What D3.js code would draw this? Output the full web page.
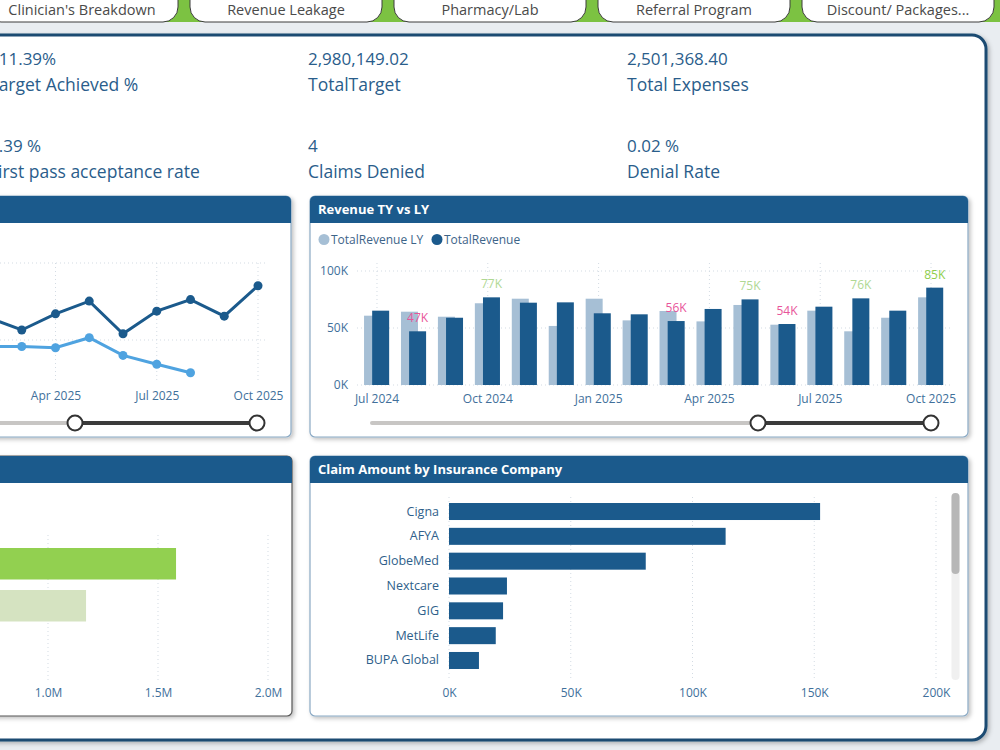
<!DOCTYPE html>
<html>
<head>
<meta charset="utf-8">
<script src="https://cdn.jsdelivr.net/npm/d3@7"></script>
<style>
  body { margin: 0; background: #e9edf1; }
  svg { display: block; font-family: "Segoe UI", "Open Sans", sans-serif; }
</style>
</head>
<body>
<svg id="dash" width="1000" height="750"></svg>
<script>
// Page tabs
const tabNames = ["Clinician's Breakdown", "Revenue Leakage", "Pharmacy/Lab", "Referral Program", "Discount/ Packages..."];

// KPI cards
const kpiValues = ["111.39%", "2,980,149.02", "2,501,368.40", "9.39 %", "4", "0.02 %"];
const kpiLabels = ["Target Achieved %", "TotalTarget", "Total Expenses", "First pass acceptance rate", "Claims Denied", "Denial Rate"];

// Revenue TY vs LY
const revMonths = ["Jul 2024", "Aug 2024", "Sep 2024", "Oct 2024", "Nov 2024", "Dec 2024", "Jan 2025", "Feb 2025",
                   "Mar 2025", "Apr 2025", "May 2025", "Jun 2025", "Jul 2025", "Aug 2025", "Sep 2025", "Oct 2025"];
const revenueLY = [60800, 64300, 59900, 71700, 75700, 51800, 75700, 56700, 64900, 55800, 70200, 52900, 65200, 47100, 59000, 76900];
const revenueTY = [65200, 47100, 59000, 76900, 72200, 72500, 62900, 62000, 56100, 66700, 75100, 53500, 68700, 76000, 65200, 85400];
const revLabelMonths = ["Aug 2024", "Oct 2024", "Mar 2025", "May 2025", "Jun 2025", "Aug 2025", "Oct 2025"];
const revTicks = ["Jul 2024", "Oct 2024", "Jan 2025", "Apr 2025", "Jul 2025", "Oct 2025"];

// Left trend chart (partly cut off)
const lineMonths = ["Feb 2025", "Mar 2025", "Apr 2025", "May 2025", "Jun 2025", "Jul 2025", "Aug 2025", "Sep 2025", "Oct 2025"];
const lineTY = [45900, 42600, 46800, 50100, 41600, 47500, 50500, 46200, 54100];
const lineLY = [38300, 38300, 38000, 40600, 36000, 33700, 31500];
const lineTicks = ["Apr 2025", "Jul 2025", "Oct 2025"];

// Left bar chart (labels cut off)
const leftCats = ["TotalRevenue", "TotalRevenue LY"];
const leftValues = [1582000, 1173000];

// Claim Amount by Insurance Company
const insurers = ["Cigna", "AFYA", "GlobeMed", "Nextcare", "GIG", "MetLife", "BUPA Global"];
const claimAmounts = [152400, 113600, 80800, 23800, 22200, 19200, 12300];

const navy = "#1b5a8c";
const lightNavy = "#a6bfd5";
const axisColor = "#41709b";
const gridColor = "#d3dbe3";

const svg = d3.select("#dash");

// Shadows
const defs = svg.append("defs");
defs.append("filter").attr("id", "shadow").attr("x", "-5%").attr("y", "-5%").attr("width", "115%").attr("height", "115%")
    .append("feDropShadow").attr("dx", 2).attr("dy", 2).attr("stdDeviation", 2)
    .attr("flood-color", "#000").attr("flood-opacity", 0.25);

// Background
svg.append("rect").attr("width", 1000).attr("height", 750).attr("fill", "#e9edf1");

// Tabs strip
svg.append("rect").attr("x", 0).attr("y", 0).attr("width", 1000).attr("height", 22).attr("fill", "#7cc242");
const tabs = svg.append("g").selectAll("g").data(tabNames).join("g")
    .attr("transform", (d, i) => `translate(${-14 + i * 204},0)`);
tabs.append("rect")
    .attr("x", 0).attr("y", -20).attr("width", 192).attr("height", 42).attr("rx", 15)
    .attr("fill", "#fff").attr("stroke", "#3c3c3c").attr("stroke-width", 1);
tabs.append("text")
    .attr("x", 96).attr("y", 15).attr("text-anchor", "middle")
    .attr("font-size", 14.5).attr("fill", "#4a4a4a")
    .text(d => d);

// Main panel
svg.append("rect")
    .attr("x", -20).attr("y", 35).attr("width", 1006).attr("height", 705).attr("rx", 14)
    .attr("fill", "#fff").attr("stroke", "#1d4b72").attr("stroke-width", 3)
    .attr("filter", "url(#shadow)");

// KPIs
const kpiCols = [-11, 308, 627];
const kpi = svg.append("g").attr("fill", "#2a5d8b");
kpiValues.forEach((v, i) => {
    const col = i % 3, row = Math.floor(i / 3);
    kpi.append("text").attr("x", kpiCols[col]).attr("y", 65 + row * 87)
        .attr("font-size", 17).text(v);
    kpi.append("text").attr("x", kpiCols[col]).attr("y", 91 + row * 87)
        .attr("font-size", 17.5).text(kpiLabels[i]);
});

// Card helper
function card(x, y, w, h, title, border) {
    const g = svg.append("g");
    g.append("rect").attr("x", x).attr("y", y).attr("width", w).attr("height", h).attr("rx", 5)
        .attr("fill", "#fff").attr("stroke", border).attr("stroke-width", 1.2)
        .attr("filter", "url(#shadow)");
    g.append("rect").attr("x", x).attr("y", y).attr("width", w).attr("height", 27).attr("rx", 5).attr("fill", navy);
    g.append("rect").attr("x", x).attr("y", y + 20).attr("width", w).attr("height", 7).attr("fill", navy);
    if (title) {
        g.append("text").attr("x", x + 8).attr("y", y + 18)
            .attr("font-size", 13).attr("font-weight", "bold").attr("fill", "#fff").text(title);
    }
    return g;
}

function slider(g, x0, x1, x2, y) {
    g.append("line").attr("x1", x0).attr("x2", x1).attr("y1", y).attr("y2", y)
        .attr("stroke", "#c8c6c4").attr("stroke-width", 4).attr("stroke-linecap", "round");
    g.append("line").attr("x1", x1).attr("x2", x2).attr("y1", y).attr("y2", y)
        .attr("stroke", "#3b3b3b").attr("stroke-width", 4);
    g.selectAll(null).data([x1, x2]).join("circle")
        .attr("cx", d => d).attr("cy", y).attr("r", 7.5)
        .attr("fill", "#fff").attr("stroke", "#333").attr("stroke-width", 2);
}

function styleAxis(g, size) {
    g.select(".domain").remove();
    g.selectAll(".tick line").remove();
    g.selectAll("text").attr("fill", axisColor).attr("font-size", size)
        .attr("font-family", "\"Segoe UI\", \"Open Sans\", sans-serif");
}

// ---------- Left trend chart ----------
const lc = card(-20, 196, 311, 241, null, "#8aa9c4");
const xL = d3.scalePoint(lineMonths, [-12, 258]);
const yL = d3.scaleLinear([40000, 60000], [340, 263]);

lc.append("g").selectAll("line").data([40000, 60000]).join("line")
    .attr("x1", -20).attr("x2", 265).attr("y1", d => yL(d)).attr("y2", d => yL(d))
    .attr("stroke", gridColor).attr("stroke-dasharray", "1,3");
lc.append("g").selectAll("line").data(lineTicks).join("line")
    .attr("x1", d => xL(d)).attr("x2", d => xL(d)).attr("y1", 263).attr("y2", 382)
    .attr("stroke", gridColor).attr("stroke-dasharray", "1,3");

lc.append("g").attr("transform", "translate(0,382)")
    .call(d3.axisBottom(xL).tickValues(lineTicks).tickSize(0).tickPadding(9))
    .call(g => styleAxis(g, 12));

const lineGen = d3.line().x((d, i) => xL(lineMonths[i])).y(d => yL(d));
[[lineLY, "#4fa3e0"], [lineTY, navy]].forEach(([vals, color]) => {
    lc.append("path").datum(vals).attr("d", lineGen)
        .attr("fill", "none").attr("stroke", color).attr("stroke-width", 3);
    lc.append("g").selectAll("circle").data(vals).join("circle")
        .attr("cx", (d, i) => xL(lineMonths[i])).attr("cy", d => yL(d)).attr("r", 4.5)
        .attr("fill", color);
});
slider(lc, -20, 75, 257, 423);

// ---------- Revenue TY vs LY ----------
const rc = card(310, 196, 658, 241, "Revenue TY vs LY", "#8aa9c4");
const xR = d3.scaleBand(revMonths, [358.5, 949.5]);
const yR = d3.scaleLinear([0, 100000], [385, 271]);
const bw = xR.bandwidth();

// legend
const legend = [["TotalRevenue LY", lightNavy, 324], ["TotalRevenue", navy, 437]];
legend.forEach(([name, color, x]) => {
    rc.append("circle").attr("cx", x).attr("cy", 239.5).attr("r", 5.5).attr("fill", color);
    rc.append("text").attr("x", x + 7).attr("y", 244).attr("font-size", 12).attr("fill", "#3d6488").text(name);
});

rc.append("g").selectAll("line").data([0, 50000, 100000]).join("line")
    .attr("x1", 357).attr("x2", 950).attr("y1", d => yR(d)).attr("y2", d => yR(d))
    .attr("stroke", gridColor).attr("stroke-dasharray", "1,3");
rc.append("g").selectAll("line").data(revTicks).join("line")
    .attr("x1", d => xR(d) + bw / 2).attr("x2", d => xR(d) + bw / 2).attr("y1", 263).attr("y2", 385)
    .attr("stroke", gridColor).attr("stroke-dasharray", "1,3");

rc.append("g").attr("transform", "translate(352,0)")
    .call(d3.axisLeft(yR).tickValues([0, 50000, 100000]).tickFormat(d => d / 1000 + "K").tickSize(0).tickPadding(4))
    .call(g => styleAxis(g, 12));
rc.append("g").attr("transform", "translate(0,385)")
    .call(d3.axisBottom(xR).tickValues(revTicks).tickSize(0).tickPadding(9))
    .call(g => styleAxis(g, 12));

rc.append("g").selectAll("rect").data(revenueLY).join("rect")
    .attr("x", (d, i) => xR(revMonths[i]) + bw * 0.15).attr("width", bw * 0.46)
    .attr("y", d => yR(d)).attr("height", d => yR(0) - yR(d))
    .attr("fill", lightNavy);
rc.append("g").selectAll("rect").data(revenueTY).join("rect")
    .attr("x", (d, i) => xR(revMonths[i]) + bw * 0.37).attr("width", bw * 0.46)
    .attr("y", d => yR(d)).attr("height", d => yR(0) - yR(d))
    .attr("fill", navy);

const maxTY = d3.max(revenueTY);
rc.append("g").selectAll("text").data(revLabelMonths).join("text")
    .attr("x", m => xR(m) + bw * 0.6).attr("y", m => yR(revenueTY[revMonths.indexOf(m)]) - 9)
    .attr("text-anchor", "middle").attr("font-size", 12)
    .attr("fill", m => {
        const i = revMonths.indexOf(m);
        if (revenueTY[i] < revenueTY[i - 1]) return "#e8559a";
        return revenueTY[i] === maxTY ? "#8fce4c" : "#b0d893";
    })
    .text(m => Math.round(revenueTY[revMonths.indexOf(m)] / 1000) + "K");
slider(rc, 372, 758, 931, 423);

// ---------- Left bar chart ----------
const bc = card(-20, 456, 312, 260, null, "#555");
const xB = d3.scaleLinear([0, 2000000], [-172, 268]);
const yB = d3.scaleBand(leftCats, [548, 621.5]).paddingInner(0.25);

bc.append("g").selectAll("line").data([1000000, 1500000, 2000000]).join("line")
    .attr("x1", d => xB(d)).attr("x2", d => xB(d)).attr("y1", 535).attr("y2", 681)
    .attr("stroke", gridColor).attr("stroke-dasharray", "1,3");
bc.append("g").attr("transform", "translate(0,684)")
    .call(d3.axisBottom(xB).tickValues([0, 500000, 1000000, 1500000, 2000000])
        .tickFormat(d => (d / 1e6).toFixed(1) + "M").tickSize(0).tickPadding(4))
    .call(g => styleAxis(g, 12));
bc.append("g").selectAll("rect").data(leftValues).join("rect")
    .attr("x", xB(0)).attr("y", (d, i) => yB(leftCats[i]))
    .attr("width", d => xB(d) - xB(0)).attr("height", yB.bandwidth())
    .attr("fill", (d, i) => i === 0 ? "#92d050" : "#d5e3c1");

// ---------- Claim Amount by Insurance Company ----------
const cc = card(310, 456, 658, 260, "Claim Amount by Insurance Company", "#8aa9c4");
const xC = d3.scaleLinear([0, 200000], [449, 936]);
const yC = d3.scaleBand(insurers, [499.1, 672.9]).paddingInner(0.315).paddingOuter(0.1575);

cc.append("g").selectAll("line").data(xC.ticks(4)).join("line")
    .attr("x1", d => xC(d)).attr("x2", d => xC(d)).attr("y1", 497).attr("y2", 681)
    .attr("stroke", gridColor).attr("stroke-dasharray", "1,3");
cc.append("g").attr("transform", "translate(0,684)")
    .call(d3.axisBottom(xC).ticks(4).tickFormat(d => d / 1000 + "K").tickSize(0).tickPadding(4))
    .call(g => styleAxis(g, 12));
cc.append("g").attr("transform", "translate(443,0)")
    .call(d3.axisLeft(yC).tickSize(0).tickPadding(4))
    .call(g => styleAxis(g, 12.5))
    .call(g => g.selectAll("text").attr("fill", "#2f5f8b"));
cc.append("g").selectAll("rect").data(claimAmounts).join("rect")
    .attr("x", xC(0)).attr("y", (d, i) => yC(insurers[i]))
    .attr("width", d => xC(d) - xC(0)).attr("height", yC.bandwidth())
    .attr("fill", navy);

// scrollbar
cc.append("rect").attr("x", 951.5).attr("y", 493).attr("width", 8).attr("height", 187).attr("rx", 4).attr("fill", "#f0f0f0");
cc.append("rect").attr("x", 951.5).attr("y", 493).attr("width", 8).attr("height", 81).attr("rx", 4).attr("fill", "#b7b7b7");
</script>
</body>
</html>
